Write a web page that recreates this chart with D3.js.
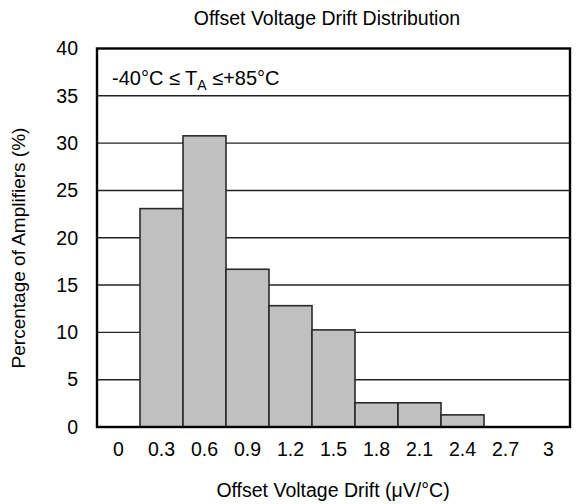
<!DOCTYPE html>
<html>
<head>
<meta charset="utf-8">
<script src="https://cdn.jsdelivr.net/npm/d3@7"></script>
<style>
html,body{margin:0;padding:0;background:#fff;}
svg{display:block;}
text{font-family:"Liberation Sans",Arial,sans-serif;fill:#000;}
</style>
</head>
<body>
<script>
const categories = ["0","0.3","0.6","0.9","1.2","1.5","1.8","2.1","2.4","2.7","3"];
const percentages = [0, 23.08, 30.77, 16.67, 12.82, 10.26, 2.56, 2.56, 1.28, 0, 0];
const yTicks = [0,5,10,15,20,25,30,35,40];

const W = 577, H = 504;
const m = {left: 97, right: 7, top: 48.5, bottom: 77};
const FS = 19.5;
const svg = d3.select("body").append("svg").attr("width", W).attr("height", H);

const x = d3.scaleBand().domain(categories).range([m.left, W - m.right]).padding(0);
const y = d3.scaleLinear().domain([0, 40]).range([H - m.bottom, m.top]);

// gridlines
svg.append("g").selectAll("line").data(yTicks.filter(t => t > 0 && t < 40)).join("line")
  .attr("x1", m.left).attr("x2", W - m.right)
  .attr("y1", d => y(d)).attr("y2", d => y(d))
  .attr("stroke", "#222").attr("stroke-width", 1.4);

// legend label
const lg = svg.append("text").attr("x", 112).attr("y", 85).attr("font-size", 20);
lg.append("tspan").text("-40°C ≤ T");
lg.append("tspan").attr("font-size", 14).attr("dy", 5).text("A");
lg.append("tspan").attr("dy", -5).text(" ≤+85°C");

// bars
svg.append("g").selectAll("rect").data(categories.map((c, i) => ({c, v: percentages[i]})).filter(d => d.c !== "0")).join("rect")
  .attr("x", d => x(d.c)).attr("width", x.bandwidth())
  .attr("y", d => y(d.v)).attr("height", d => y(0) - y(d.v))
  .attr("fill", "#c0c0c0").attr("stroke", "#2a2a2a").attr("stroke-width", 1.6);

// frame
svg.append("rect").attr("x", m.left).attr("y", m.top)
  .attr("width", W - m.right - m.left).attr("height", H - m.bottom - m.top)
  .attr("fill", "none").attr("stroke", "#000").attr("stroke-width", 2.4);

// y axis
const ya = svg.append("g").attr("transform", `translate(${m.left},0)`)
  .call(d3.axisLeft(y).tickValues(yTicks).tickSize(0).tickPadding(19).tickFormat(d3.format("d")));
ya.select(".domain").remove();
ya.selectAll("text").attr("font-size", FS).attr("font-family", "Liberation Sans, Arial, sans-serif").attr("fill", "#000");

// x axis
const xa = svg.append("g").attr("transform", `translate(0,${H - m.bottom})`)
  .call(d3.axisBottom(x).tickSize(0).tickPadding(15));
xa.select(".domain").remove();
xa.selectAll("text").attr("font-size", FS).attr("font-family", "Liberation Sans, Arial, sans-serif").attr("fill", "#000");

// titles
svg.append("text").attr("x", 327).attr("y", 25).attr("text-anchor", "middle").attr("font-size", FS).text("Offset Voltage Drift Distribution");
svg.append("text").attr("x", 333).attr("y", 497).attr("text-anchor", "middle").attr("font-size", FS).text("Offset Voltage Drift (μV/°C)");
svg.append("text").attr("transform", "translate(25,248) rotate(-90)").attr("text-anchor", "middle").attr("font-size", 19).text("Percentage of Amplifiers (%)");
</script>
</body>
</html>
